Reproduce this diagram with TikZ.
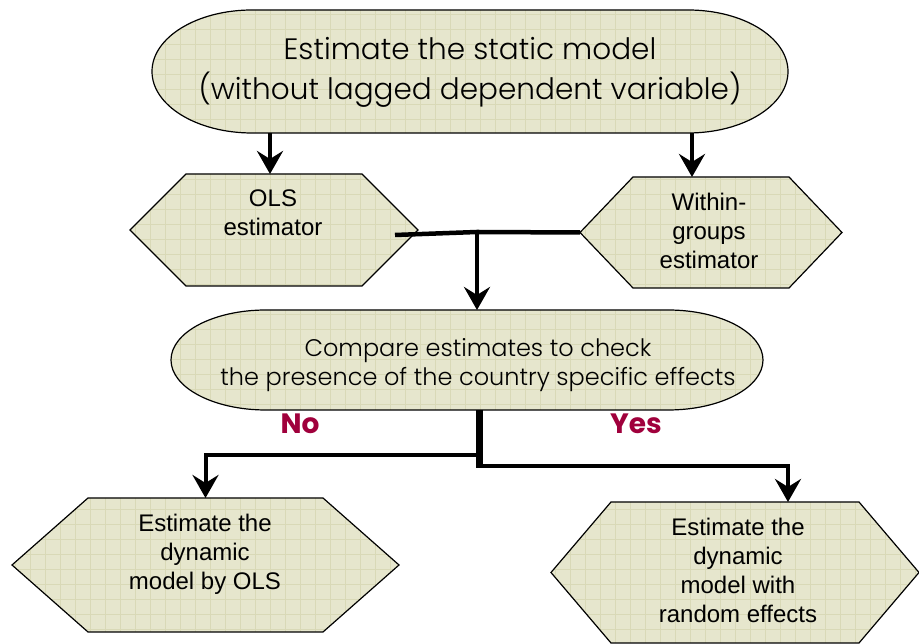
\documentclass[tikz,border=0pt]{standalone}
\usepackage{fontspec}
\setmainfont{Liberation Sans}
\newfontfamily\gothic{Poppins Light}
\newfontfamily\gothicbold{Poppins}[BoldFont={* Bold}]
\usetikzlibrary{arrows.meta,calc}
\pgfdeclarelayer{bg}
\pgfsetlayers{bg,main}
\definecolor{shapefill}{RGB}{230,230,205}
\definecolor{gridc}{RGB}{217,217,183}
\definecolor{labred}{RGB}{160,0,60}
\tikzset{
  box/.style={draw=none,inner sep=0pt,outer sep=0pt,rectangle},
  shp/.style={draw=black,line width=1.2pt,fill=shapefill,
    path picture={\draw[gridc,line width=0.5pt] (path picture bounding box.south west) grid[step=15pt] (path picture bounding box.north east);}},
  conn/.style={line width=4.5pt},
  arr/.style={line width=4pt,-{Stealth[length=23pt,width=26pt,inset=8pt]}},
  hextext/.style={align=center,font=\fontsize{24}{29}\selectfont},
  lab/.style={text=labred,font=\gothicbold\bfseries\fontsize{28}{30}\selectfont}
}
\newcommand{\termshape}[3]{%
  \draw[shp] ($(#1.north west)+(#2,0)$) -- ($(#1.north east)+(-#2,0)$)
    arc[start angle=90,end angle=-90,x radius=#2,y radius=#3]
    -- ($(#1.south west)+(#2,0)$)
    arc[start angle=270,end angle=90,x radius=#2,y radius=#3] -- cycle;}
\newcommand{\hexshape}[2]{%
  \draw[shp] (#1.west) -- ($(#1.north west)+(#2,0)$) -- ($(#1.north east)+(-#2,0)$)
    -- (#1.east) -- ($(#1.south east)+(-#2,0)$) -- ($(#1.south west)+(#2,0)$) -- cycle;}
\begin{document}
\begin{tikzpicture}[x=1pt,y=1pt]
\useasboundingbox (0,0) rectangle (919,644);
% shapes (nodes)
\node[box,minimum width=636pt,minimum height=123pt] (top) at (470,572.5) {};
\node[box,minimum width=288pt,minimum height=112pt] (ols) at (274,414) {};
\node[box,minimum width=262pt,minimum height=111pt] (within) at (711,411.5) {};
\node[box,minimum width=592pt,minimum height=100pt] (compare) at (467,284) {};
\node[box,minimum width=387pt,minimum height=134pt] (bl) at (205.5,79) {};
\node[box,minimum width=368pt,minimum height=141pt] (br) at (735,71.5) {};
\begin{pgfonlayer}{bg}
\fill[white] (0,0) rectangle (919,644);
\termshape{top}{100}{61.5}
\termshape{compare}{95}{50}
\hexshape{ols}{56}
\hexshape{within}{53}
\hexshape{bl}{76}
\hexshape{br}{60}
\end{pgfonlayer}
% texts
\node[align=center,font=\gothic\fontsize{29.5}{40}\selectfont] (topT) at (470,572) {Estimate the static model\\(without lagged dependent variable)};
\node[hextext] (olsT) at (273,431) {OLS\\estimator};
\node[hextext] (withinT) at (709,413) {Within-\\groups\\estimator};
\node[align=center,font=\gothic\fontsize{24}{29}\selectfont] (compareT) at (478,279) {Compare estimates to check\\the presence of the country specific effects};
\node[hextext] (blT) at (205,90) {Estimate the\\dynamic\\model by OLS};
\node[hextext] (brT) at (738,74) {Estimate the\\dynamic\\model with\\random effects};
\node[lab] (no) at (300,220) {No};
\node[lab] (yes) at (636,220) {Yes};
% connectors
\coordinate (j1) at (477,412);
\coordinate (j2) at (479,189);
\coordinate (j3) at (479,178);
\draw[arr] ([xshift=-4pt]ols.north |- top.south) -- ([xshift=-4pt]ols.north);
\draw[arr] ([xshift=-19pt]within.north |- top.south) -- ([xshift=-19pt]within.north);
\draw[conn] ([xshift=-23pt,yshift=-5pt]ols.east) -- (j1) -- (within.west);
\draw[arr] (j1) -- (compare.north -| j1);
\draw[line width=7pt] (compare.south -| j2) -- ([yshift=-2pt]j3);
\draw[arr] (j2) -| (bl.north);
\draw[arr] (j3) -| ([xshift=53pt]br.north);
\end{tikzpicture}
\end{document}
